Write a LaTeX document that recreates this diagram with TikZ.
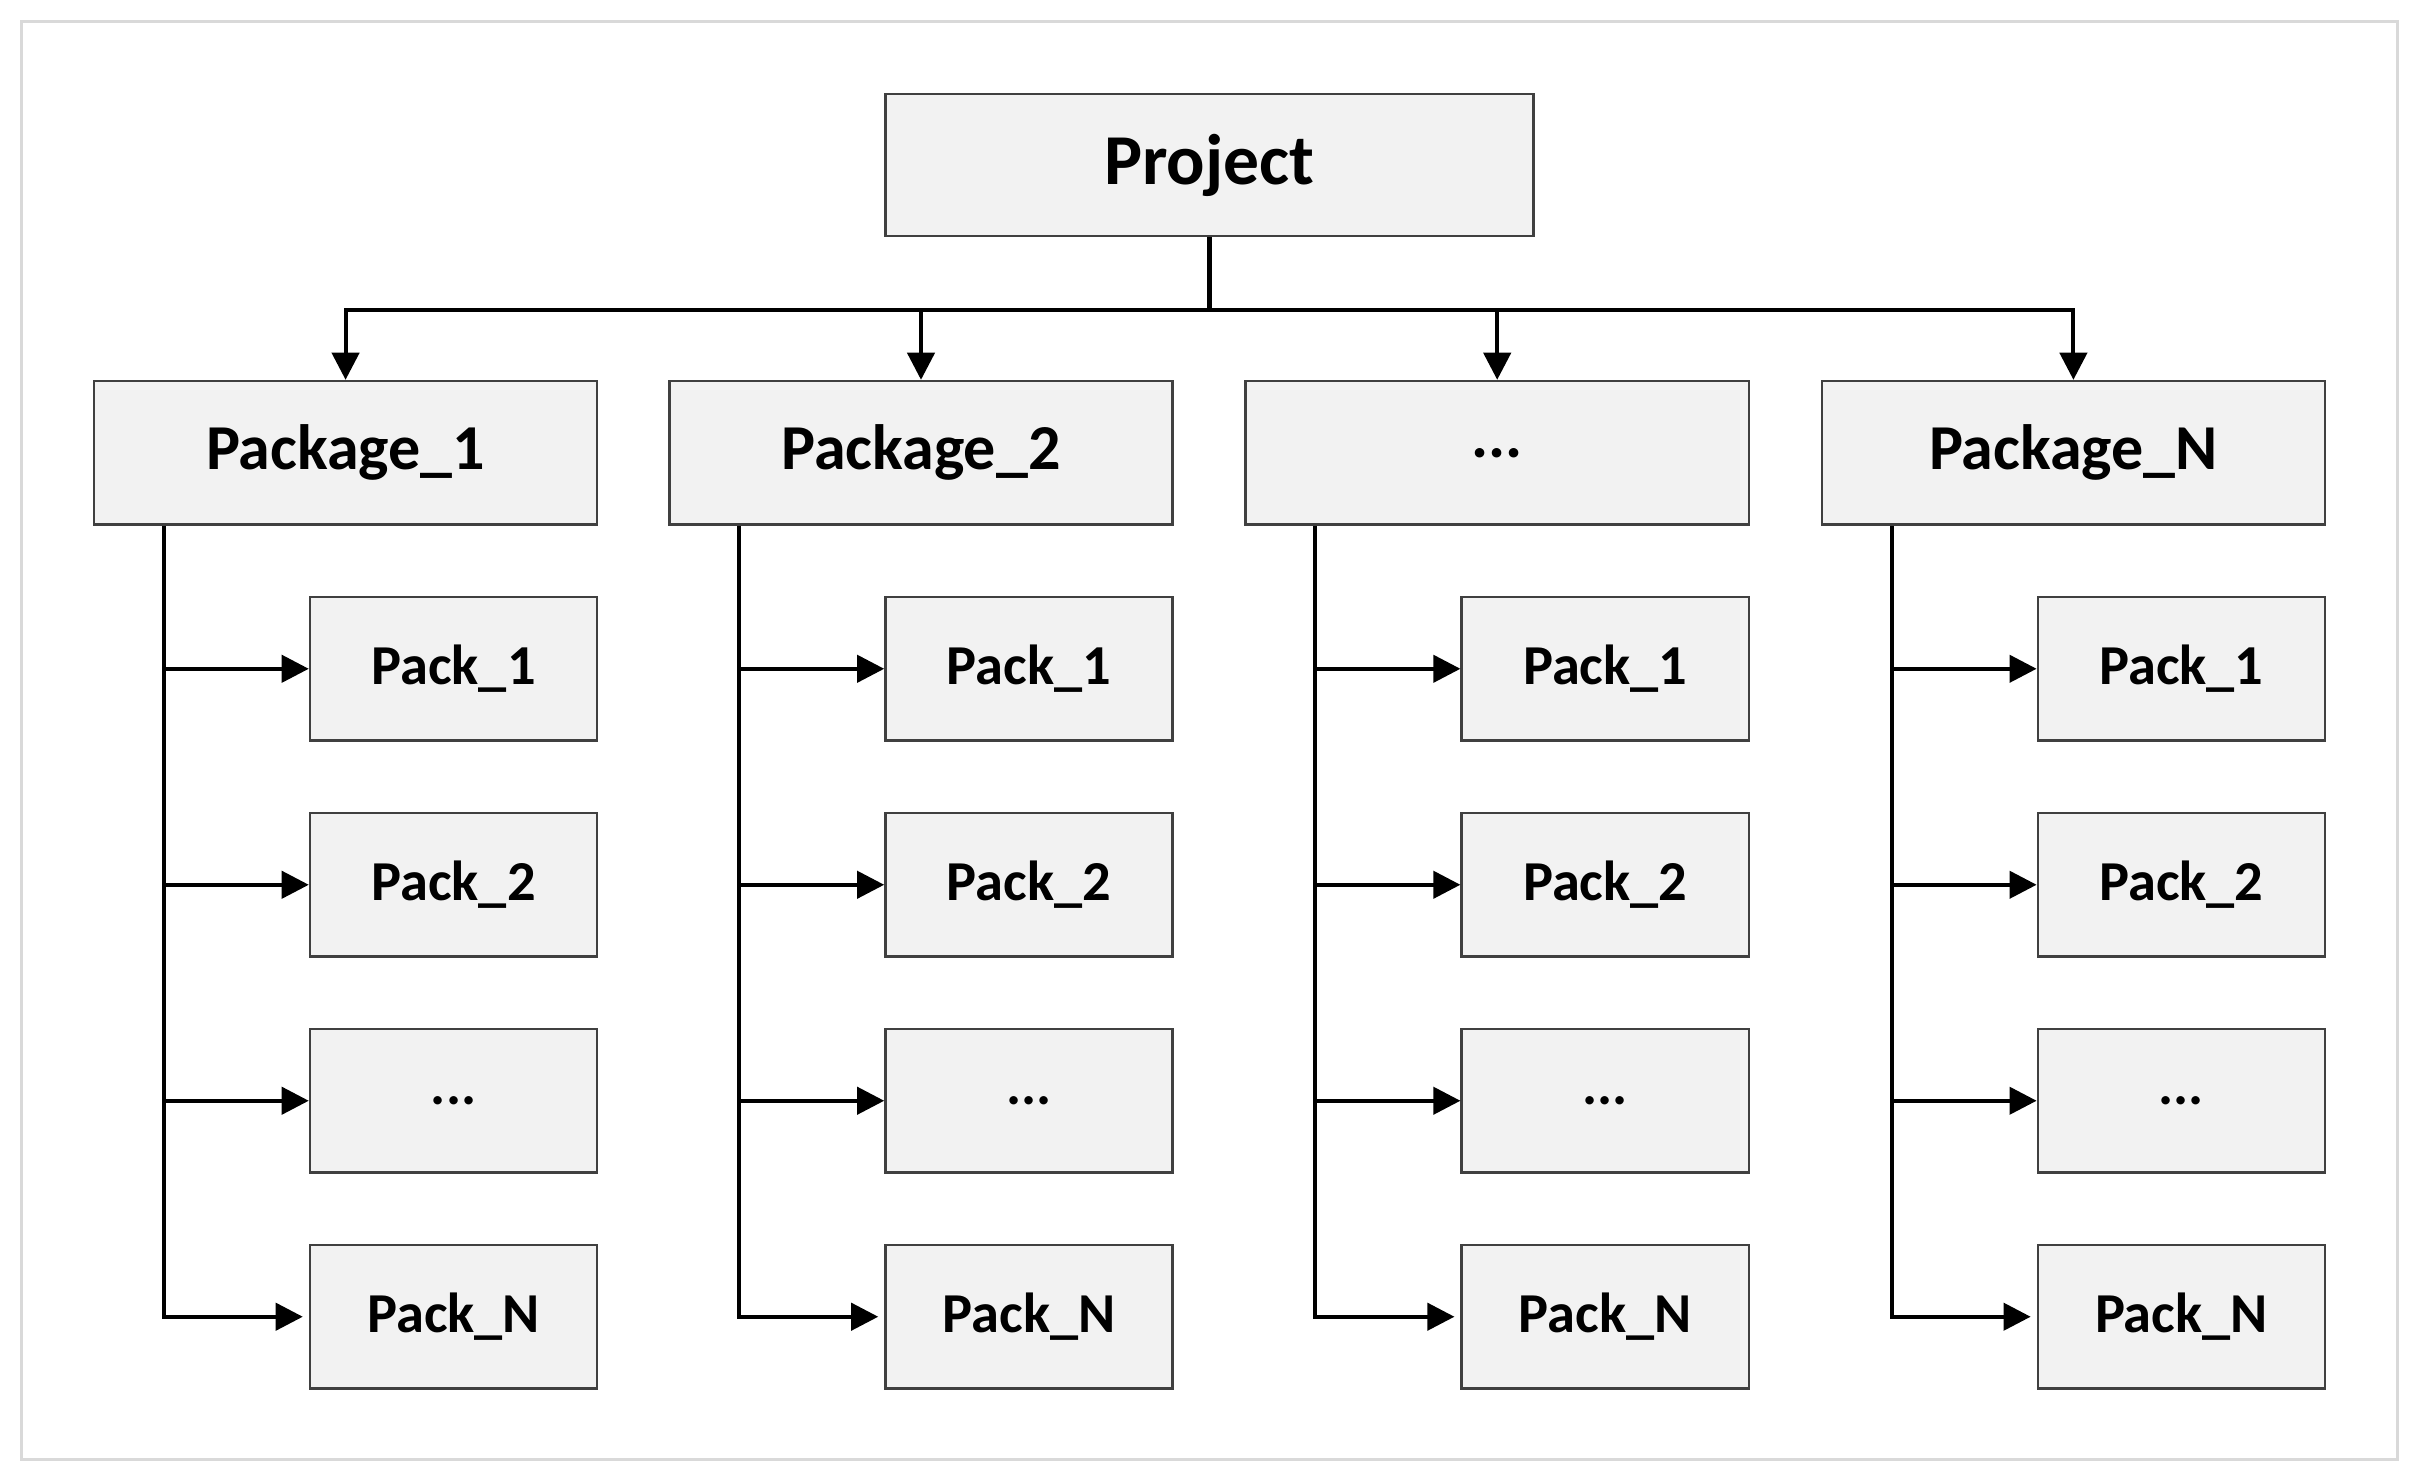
\documentclass[tikz,border=0pt]{standalone}
\usepackage{fontspec}
\setmainfont{Carlito}
\usetikzlibrary{arrows.meta,calc}
\definecolor{boxfill}{HTML}{F2F2F2}
\definecolor{boxline}{HTML}{404040}
\definecolor{framecol}{HTML}{D9D9D9}
\newcommand{\tridots}{...}
\tikzset{
  box/.style={draw=boxline,line width=0.45pt,fill=boxfill,inner sep=0pt,font=\bfseries},
  projbox/.style={box,minimum width=4.2cm,minimum height=0.92cm,font=\bfseries\fontsize{13.2}{15}\selectfont},
  pkgbox/.style={box,minimum width=3.26cm,minimum height=0.93cm,font=\bfseries\fontsize{11.8}{14}\selectfont},
  packbox/.style={box,minimum width=1.86cm,minimum height=0.93cm,font=\bfseries\fontsize{10.4}{12}\selectfont},
  conn/.style={line width=0.75pt,black},
  arr/.style={conn,-{Triangle[length=5pt,width=5pt]}},
}
\begin{document}
\begin{tikzpicture}[x=0.01cm,y=-0.01cm]
\useasboundingbox (0,0) rectangle (1568,961.3);
\draw[framecol,line width=0.6pt] (14,14) rectangle (1554,946);
\node[projbox] (proj) at (784,107) {Project};
\foreach \i/\cx/\lab in {1/224/Package\_1,2/597/Package\_2,3/970.5/\tridots,4/1344/Package\_N}{
  \node[pkgbox] (pk\i) at (\cx,293.5) {\lab};
  \foreach \j/\cy/\plab in {1/433.5/Pack\_1,2/573.5/Pack\_2,3/713.5/\tridots,4/853.5/Pack\_N}{
    \node[packbox] (pk\i c\j) at (\cx+70,\cy) {\plab};
  }
}
\draw[conn] (proj.south) -- ++(0,47) coordinate (bus);
\foreach \i in {1,2,3,4}{
  \draw[arr] (bus) -| (pk\i.north);
  \coordinate (s\i) at ($(pk\i.south west)+(46,0)$);
  \draw[arr,shorten >=1.1pt] (s\i) |- (pk\i c4.west);
  \foreach \j in {1,2,3}{
    \draw[arr] (s\i |- pk\i c\j.west) -- (pk\i c\j.west);
  }
}
\end{tikzpicture}
\end{document}
